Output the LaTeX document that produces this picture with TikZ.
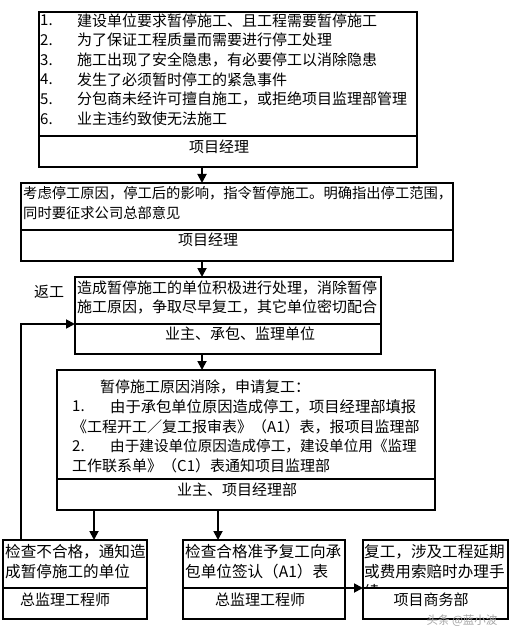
\documentclass[tikz,border=0pt]{standalone}
\usepackage{fontspec}
\setmainfont{Noto Sans CJK SC}
\usetikzlibrary{arrows.meta}
\begin{document}
\begin{tikzpicture}[x=1pt,y=-1pt,
  cell/.style={draw, line width=1.8pt, inner sep=0pt, outer sep=0pt},
  txt/.style={anchor=west, inner sep=0pt, font=\fontsize{15}{19}\selectfont},
  txtsm/.style={txt, font=\fontsize{14.3}{19}\selectfont},
  txtbig/.style={txt, font=\fontsize{15.6}{19}\selectfont},
  lbl/.style={anchor=center, inner sep=0pt, font=\fontsize{15}{19}\selectfont},
  arr/.style={line width=1.8pt, -{Triangle[width=9pt,length=9pt]}},
  num/.style={txt}]
\useasboundingbox (0,0) rectangle (516,639);

% ---------- boxes ----------
\node[cell, minimum width=378pt, minimum height=124pt] (b1t) at (228,74) {};
\node[cell, minimum width=378pt, minimum height=31pt] (b1b) at (228,151.5) {};
\node[cell, minimum width=432pt, minimum height=47pt] (b2t) at (237,206.5) {};
\node[cell, minimum width=432pt, minimum height=31pt] (b2b) at (237,245.5) {};
\node[cell, minimum width=306pt, minimum height=47pt] (b3t) at (228,300.5) {};
\node[cell, minimum width=306pt, minimum height=30pt] (b3b) at (228,339) {};
\node[cell, minimum width=378pt, minimum height=109pt] (b4t) at (246,424.5) {};
\node[cell, minimum width=378pt, minimum height=31pt] (b4b) at (246,494.5) {};
\node[cell, minimum width=144pt, minimum height=48pt] (lt) at (75,564) {};
\node[cell, minimum width=144pt, minimum height=31pt] (lb) at (75,603.5) {};
\node[cell, minimum width=162pt, minimum height=48pt] (mt) at (264,564) {};
\node[cell, minimum width=162pt, minimum height=31pt] (mb) at (264,603.5) {};
\node[cell, minimum width=145pt, minimum height=48pt] (rt) at (435.5,564) {};
\node[cell, minimum width=145pt, minimum height=31pt] (rb) at (435.5,603.5) {};

% ---------- box 1 text ----------
\node[num] (n11) at (40,20.5) {1.};
\node[txt] (t11) at (77,20.5) {建设单位要求暂停施工、且工程需要暂停施工};
\node[num] (n12) at (40,40.2) {2.};
\node[txt] (t12) at (77,40.2) {为了保证工程质量而需要进行停工处理};
\node[num] (n13) at (40,59.9) {3.};
\node[txt] (t13) at (77,59.9) {施工出现了安全隐患，有必要停工以消除隐患};
\node[num] (n14) at (40,79.6) {4.};
\node[txt] (t14) at (77,79.6) {发生了必须暂时停工的紧急事件};
\node[num] (n15) at (40,99.3) {5.};
\node[txt] (t15) at (77,99.3) {分包商未经许可擅自施工，或拒绝项目监理部管理};
\node[num] (n16) at (40,119) {6.};
\node[txt] (t16) at (77,119) {业主违约致使无法施工};
\node[lbl] (l1) at (219,146.5) {项目经理};

% ---------- box 2 text ----------
\node[txtsm] (t21) at (23,193) {考虑停工原因，停工后的影响，指令暂停施工。明确指出停工范围，};
\node[txtsm] (t22) at (23,213) {同时要征求公司总部意见};
\node[lbl] (l2) at (208,240) {项目经理};

% ---------- box 3 text ----------
\node[txt] (t31) at (77,287.5) {造成暂停施工的单位积极进行处理，消除暂停};
\node[txt] (t32) at (77,306.5) {施工原因，争取尽早复工，其它单位密切配合};
\node[lbl] (l3) at (240,333.5) {业主、承包、监理单位};
\node[lbl] (fg) at (49,292) {返工};

% ---------- box 4 text ----------
\node[txt] (t41) at (100,387) {暂停施工原因消除，申请复工：};
\node[num] (n42) at (72,406.5) {1.};
\node[txt, font=\fontsize{15.3}{19}\selectfont] (t42) at (110,406.5) {由于承包单位原因造成停工，项目经理部填报};
\node[txt] (t43) at (72,427) {《工程开工／复工报审表》（A1）表，报项目监理部};
\node[num] (n44) at (72,446) {2.};
\node[txt, font=\fontsize{14.6}{19}\selectfont] (t44) at (110,446) {由于建设单位原因造成停工，建设单位用《监理};
\node[txt] (t45) at (72,466) {工作联系单》（C1）表通知项目监理部};
\node[lbl] (l4) at (237,489.5) {业主、项目经理部};

% ---------- bottom boxes text ----------
\node[txtbig] (tl1) at (5,552) {检查不合格，通知造};
\node[txtbig] (tl2) at (5,572) {成暂停施工的单位};
\node[lbl] (ll) at (65,600) {总监理工程师};
\node[txtbig] (tm1) at (185,552) {检查合格准予复工向承};
\node[txtbig] (tm2) at (185,572) {包单位签认（A1）表};
\node[lbl] (lm) at (260,600) {总监理工程师};
\begin{scope}
  \clip (363,540) rectangle (508,587);
  \node[txtbig] (tr1) at (364,552) {复工，涉及工程延期};
  \node[txtbig] (tr2) at (364,572) {或费用索赔时办理手};
  \node[txtbig] (tr3) at (364,592) {续};
\end{scope}
\node[lbl] (lr) at (431,600) {项目商务部};

% ---------- watermark ----------
\node[anchor=center, inner sep=0pt, text=gray!70, font=\fontsize{11.5}{12}\selectfont] (wm) at (462,621) {头条 @蓝小波};

% ---------- connectors ----------
\coordinate (xa) at (202,0);
\coordinate (xl) at (94,0);
\coordinate (xm) at (218,0);
\coordinate (xr) at (21,0);
\draw[arr] (b1b.south -| xa) -- (b2t.north -| xa);
\draw[arr] (b2b.south -| xa) -- (b3t.north -| xa);
\draw[arr] (b3b.south -| xa) -- (b4t.north -| xa);
\draw[arr] (b4b.south -| xl) -- (lt.north -| xl);
\draw[arr] (b4b.south -| xm) -- (mt.north -| xm);
\draw[arr] (mb.north east) -- (rb.north west);
\draw[arr] (lt.north -| xr) |- (b3b.north west);
\end{tikzpicture}
\end{document}
